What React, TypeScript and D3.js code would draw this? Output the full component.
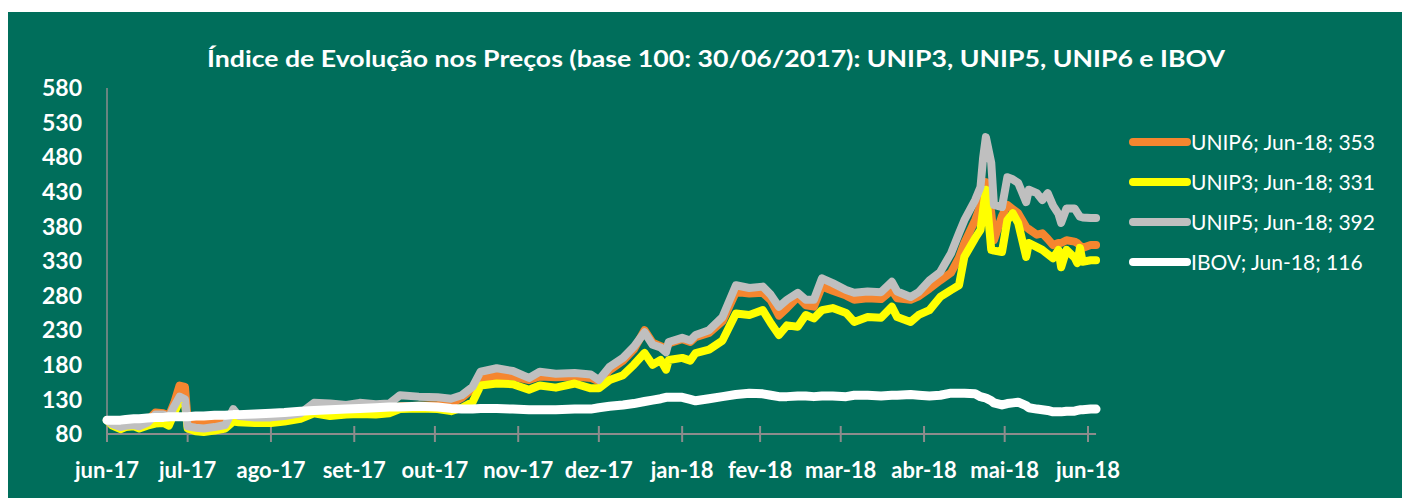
import React, { useEffect, useRef } from 'react';
import * as d3 from 'd3';

// datas (aprox.)
const dates = [
  '2017-06-30', '2017-07-02', '2017-07-05', '2017-07-07', '2017-07-10', '2017-07-12', '2017-07-15',
  '2017-07-18', '2017-07-21', '2017-07-23', '2017-07-25', '2017-07-27', '2017-07-29', '2017-07-30',
  '2017-08-02', '2017-08-05', '2017-08-09', '2017-08-13', '2017-08-16', '2017-08-18', '2017-08-24',
  '2017-08-30', '2017-09-04', '2017-09-10', '2017-09-15', '2017-09-21', '2017-09-27', '2017-10-02',
  '2017-10-08', '2017-10-13', '2017-10-17', '2017-10-24', '2017-10-31', '2017-11-05', '2017-11-09',
  '2017-11-13', '2017-11-16', '2017-11-22', '2017-11-28', '2017-12-04', '2017-12-08', '2017-12-14',
  '2017-12-21', '2017-12-27', '2017-12-30', '2018-01-03', '2018-01-08', '2018-01-12', '2018-01-16',
  '2018-01-19', '2018-01-22', '2018-01-24', '2018-01-25', '2018-01-30', '2018-02-02', '2018-02-04',
  '2018-02-09', '2018-02-14', '2018-02-19', '2018-02-24', '2018-03-01', '2018-03-04', '2018-03-07',
  '2018-03-10', '2018-03-14', '2018-03-17', '2018-03-20', '2018-03-23', '2018-03-27', '2018-04-01',
  '2018-04-04', '2018-04-09', '2018-04-14', '2018-04-18', '2018-04-20', '2018-04-25', '2018-04-28',
  '2018-05-02', '2018-05-06', '2018-05-10', '2018-05-13', '2018-05-15', '2018-05-19', '2018-05-21',
  '2018-05-22', '2018-05-23', '2018-05-25', '2018-05-26', '2018-05-29', '2018-05-31', '2018-06-02',
  '2018-06-04', '2018-06-07', '2018-06-08', '2018-06-11', '2018-06-13', '2018-06-15', '2018-06-17',
  '2018-06-19', '2018-06-20', '2018-06-22', '2018-06-25', '2018-06-26', '2018-06-27', '2018-06-28',
  '2018-07-01', '2018-07-03',
];

const unip6 = [
  100, 96, 94, 95, 96, 94, 99,
  111, 110, 106, 125, 150, 148, 100,
  98, 97, 98, 100, 110, 104, 103,
  103, 104, 108, 115, 116, 114, 116,
  115, 117, 120, 121, 122, 124, 132,
  145, 160, 164, 163, 158, 163, 162,
  163, 161, 156, 172, 186, 202, 230,
  212, 207, 203, 211, 217, 213, 220,
  226, 243, 285, 283, 284, 273, 251,
  262, 278, 266, 264, 293, 287, 280,
  274, 276, 275, 288, 276, 274, 279,
  290, 302, 313, 335, 356, 389, 410,
  437, 444, 400, 360, 395, 411, 405,
  399, 379, 376, 368, 370, 362, 353,
  356, 356, 360, 358, 356, 352, 349,
  353, 353,
];

const unip3 = [
  100, 92, 87, 90, 91, 88, 92,
  95, 96, 92, 110, 128, 125, 88,
  84, 83, 85, 88, 98, 97, 96,
  96, 98, 102, 110, 106, 108, 109,
  108, 110, 116, 117, 116, 113, 118,
  126, 150, 153, 152, 144, 150, 147,
  153, 146, 146, 158, 165, 180, 197,
  180, 187, 173, 187, 190, 186, 197,
  202, 215, 254, 252, 259, 240, 223,
  237, 235, 252, 247, 259, 262, 255,
  242, 249, 248, 264, 249, 242, 252,
  259, 278, 288, 295, 336, 363, 375,
  405, 433, 346, 345, 343, 389, 399,
  385, 336, 356, 350, 346, 340, 334,
  346, 321, 346, 335, 327, 349, 329,
  331, 331,
];

const unip5 = [
  100, 94, 90, 92, 93, 91, 96,
  108, 108, 104, 120, 134, 130, 91,
  89, 88, 90, 93, 116, 106, 104,
  104, 106, 110, 125, 124, 122, 125,
  123, 124, 136, 134, 133, 131, 136,
  148, 170, 175, 171, 161, 170, 167,
  168, 166, 158, 177, 190, 206, 227,
  209, 205, 198, 213, 219, 215, 223,
  230, 249, 295, 291, 293, 281, 264,
  274, 284, 274, 274, 305, 298, 288,
  284, 286, 285, 300, 286, 278, 285,
  302, 314, 341, 370, 389, 418, 437,
  480, 509, 472, 411, 408, 451, 448,
  443, 415, 433, 428, 418, 428, 410,
  398, 385, 406, 406, 400, 394, 393,
  392, 392,
];

const ibov = [
  100, 100, 100, 101, 102, 102, 103,
  104, 104, 105, 105, 105, 105, 105,
  106, 106, 107, 107, 108, 108, 109,
  110, 111, 113, 114, 115, 116, 117,
  118, 119, 119, 120, 119, 117, 116,
  116, 117, 117, 116, 115, 115, 115,
  116, 116, 118, 120, 122, 124, 127,
  129, 131, 133, 133, 133, 130, 128,
  131, 134, 137, 139, 138, 136, 134,
  134, 135, 135, 134, 135, 135, 134,
  136, 136, 135, 136, 136, 137, 136,
  135, 136, 139, 139, 139, 138, 134,
  133, 132, 128, 125, 122, 124, 125,
  126, 121, 118, 116, 115, 114, 112,
  112, 112, 113, 113, 114, 115, 115,
  116, 116,
];

const seriesNames = ['UNIP6', 'UNIP3', 'UNIP5', 'IBOV'];
const seriesColors = ['#F5862F', '#FFFF00', '#BFBFBF', '#FFFFFF'];
const legendLabels = ['UNIP6; Jun-18; 353', 'UNIP3; Jun-18; 331', 'UNIP5; Jun-18; 392', 'IBOV; Jun-18; 116'];

const tickDates = [
  '2017-06-30', '2017-07-30', '2017-08-30', '2017-09-30', '2017-10-30', '2017-11-30', '2017-12-30',
  '2018-01-30', '2018-02-28', '2018-03-30', '2018-04-30', '2018-05-30', '2018-06-30',
];
const tickLabels = [
  'jun-17', 'jul-17', 'ago-17', 'set-17', 'out-17', 'nov-17', 'dez-17',
  'jan-18', 'fev-18', 'mar-18', 'abr-18', 'mai-18', 'jun-18',
];
const yTicks = [80, 130, 180, 230, 280, 330, 380, 430, 480, 530, 580];

const TITLE = 'Índice de Evolução nos Preços (base 100: 30/06/2017): UNIP3, UNIP5, UNIP6 e IBOV';
const FONT = 'Lato, "Open Sans", "Liberation Sans", sans-serif';

const parse = d3.timeParse('%Y-%m-%d');

const App = () => {
  const ref = useRef<SVGSVGElement>(null);

  useEffect(() => {
    const svg = d3.select(ref.current);
    svg.selectAll('*').remove();

    svg.append('rect')
      .attr('x', 8).attr('y', 12)
      .attr('width', 1394).attr('height', 486)
      .attr('fill', '#006E5B');

    const x = d3.scaleTime()
      .domain([parse('2017-06-30')!, parse('2018-06-30')!])
      .range([107, 1088]);
    const y = d3.scaleLinear().domain([80, 580]).range([434, 88]);

    svg.append('text')
      .attr('x', 716).attr('y', 67)
      .attr('text-anchor', 'middle')
      .attr('fill', '#fff')
      .attr('font-family', FONT)
      .attr('font-weight', 'bold')
      .attr('font-size', 23)
      .attr('textLength', 1018)
      .attr('lengthAdjust', 'spacingAndGlyphs')
      .text(TITLE);

    // eixo y
    svg.append('line')
      .attr('x1', 107).attr('x2', 107)
      .attr('y1', y(580)).attr('y2', y(80))
      .attr('stroke', '#8C8C8C').attr('stroke-width', 1.5);

    svg.append('g')
      .selectAll('text')
      .data(yTicks)
      .enter()
      .append('text')
      .attr('x', 82)
      .attr('y', d => y(d))
      .attr('dy', '0.36em')
      .attr('text-anchor', 'end')
      .attr('fill', '#fff')
      .attr('font-family', FONT)
      .attr('font-weight', 'bold')
      .attr('font-size', 23)
      .text(d => d);

    // eixo x
    const lastDate = parse(dates[dates.length - 1])!;
    svg.append('line')
      .attr('x1', 107).attr('x2', x(lastDate))
      .attr('y1', y(80)).attr('y2', y(80))
      .attr('stroke', '#8C8C8C').attr('stroke-width', 2);

    const ticks = svg.append('g');
    ticks.selectAll('line')
      .data(tickDates)
      .enter()
      .append('line')
      .attr('x1', d => x(parse(d)!)).attr('x2', d => x(parse(d)!))
      .attr('y1', y(80) - 8).attr('y2', y(80) + 8)
      .attr('stroke', '#8C8C8C').attr('stroke-width', 2);
    ticks.selectAll('text')
      .data(tickDates)
      .enter()
      .append('text')
      .attr('x', d => x(parse(d)!))
      .attr('y', 478)
      .attr('text-anchor', 'middle')
      .attr('fill', '#fff')
      .attr('font-family', FONT)
      .attr('font-weight', 'bold')
      .attr('font-size', 22)
      .text((d, i) => tickLabels[i]);

    // series
    const all = [unip6, unip3, unip5, ibov];
    const line = d3.line<number>()
      .x((d, i) => x(parse(dates[i])!))
      .y(d => y(d));

    all.forEach((values, i) => {
      svg.append('path')
        .datum(values)
        .attr('fill', 'none')
        .attr('stroke', seriesColors[i])
        .attr('stroke-width', i === 3 ? 9 : 8)
        .attr('stroke-linejoin', 'round')
        .attr('stroke-linecap', 'round')
        .attr('d', line);
    });

    // legenda
    const legend = svg.append('g')
      .selectAll('g')
      .data(seriesNames)
      .enter()
      .append('g')
      .attr('transform', (d, i) => `translate(0,${142 + i * 40})`);
    legend.append('line')
      .attr('x1', 1133).attr('x2', 1187)
      .attr('stroke', (d, i) => seriesColors[i])
      .attr('stroke-width', 8)
      .attr('stroke-linecap', 'round');
    legend.append('text')
      .attr('x', 1191)
      .attr('dy', '0.36em')
      .attr('fill', '#fff')
      .attr('font-family', FONT)
      .attr('font-size', 21)
      .text((d, i) => legendLabels[i]);
  }, []);

  return (
    <svg
      ref={ref}
      width={1402}
      height={498}
      style={{ position: 'absolute', left: 0, top: 0 }}
    />
  );
};

export default App;
